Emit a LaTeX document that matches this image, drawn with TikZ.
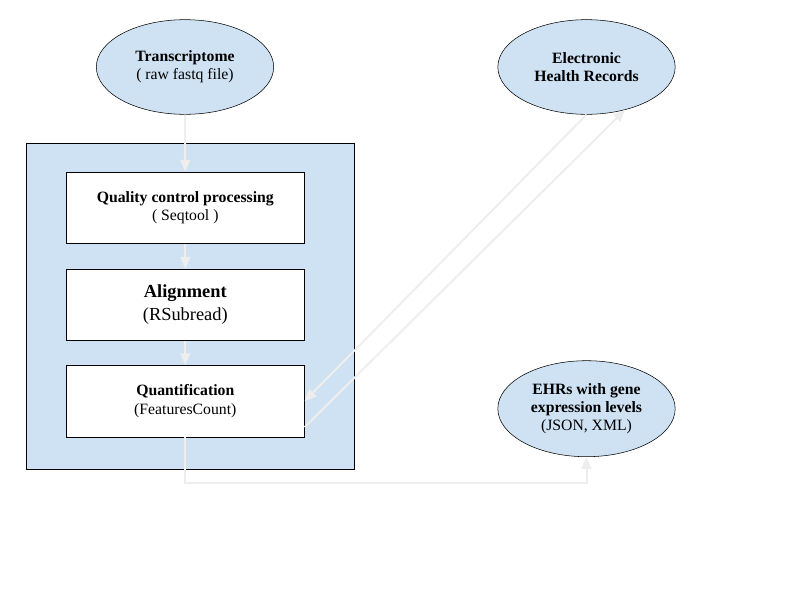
\documentclass[tikz,border=0pt]{standalone}
\usepackage{fontspec}
\setmainfont{Liberation Serif}
\usetikzlibrary{shapes.geometric,arrows.meta,calc}
\definecolor{paleblue}{HTML}{CFE2F3}
\definecolor{flowgray}{HTML}{EEEEEE}
\begin{document}
\begin{tikzpicture}[x=.75pt,y=-.75pt,
		source/.style={ellipse,draw,fill=paleblue,minimum width=133pt,minimum height=71pt,align=center,font=\fontsize{11.8}{13.8}\selectfont},
		stage/.style={rectangle,draw,fill=white,minimum width=178.5pt,minimum height=53.5pt,align=center,font=\fontsize{11.8}{14}\selectfont},
		flow/.style={draw=flowgray,line width=1.5pt,-{Triangle[length=9pt,width=7.5pt]}}]
		\useasboundingbox (0,0) rectangle (800,600);
		\node[source] (trans) at (185,67){\textbf{Transcriptome}\\( raw fastq file)};
		\node[source] (ehr) at (586.5,67){\textbf{Electronic}\\\textbf{Health Records}};
		\node[source,minimum height=72pt] (ehrgene) at (586.5,408.7){\textbf{EHRs with gene}\\\textbf{expression levels}\\(JSON, XML)};
		\node[draw,fill=paleblue,minimum width=245.7pt,minimum height=244.3pt] (panel) at (190.5,306.2){};
		\node[stage] (qc) at (185.3,207.8){\textbf{Quality control processing}\\( Seqtool )};
		\node[stage,font=\fontsize{13.8}{17}\selectfont] (align) at (185.3,304.8){\textbf{Alignment}\\(RSubread)};
		\node[stage] (quant) at (185.3,401.2){\textbf{Quantification}\\(FeaturesCount)};
		\draw[flow] (trans.south)--(qc.north);
		\draw[flow] (qc.south)--(align.north);
		\draw[flow] (align.south)--(quant.north);
		\draw[flow] (ehr.south)--(quant.east);
		\draw[flow] ($(quant.south east)+(0,-10)$)--(ehr.-48);
		\draw[flow] (quant.south)--++(0,45.7)-|(ehrgene.south);
	\end{tikzpicture}
\end{document}
